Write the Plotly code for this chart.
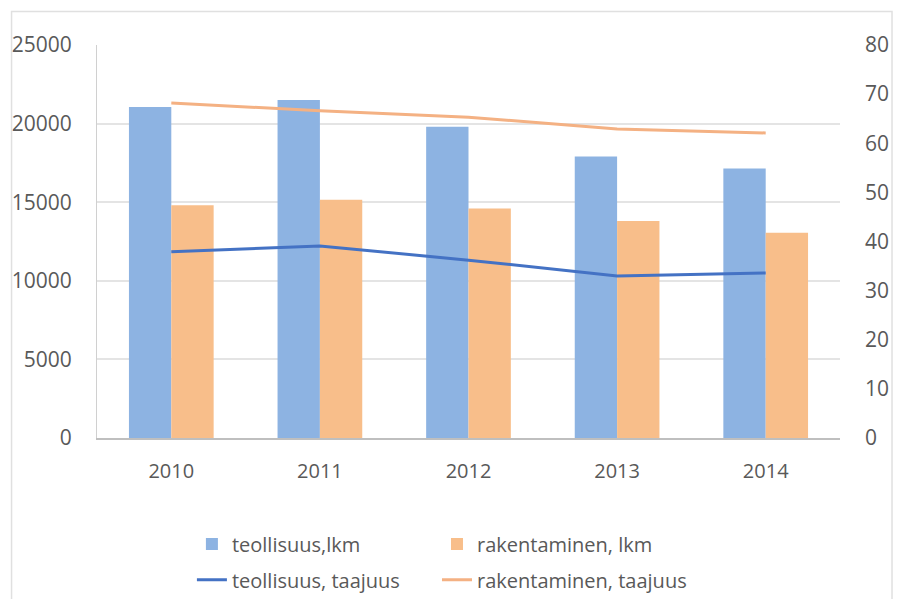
import plotly.graph_objects as go

years = ["2010", "2011", "2012", "2013", "2014"]
teollisuus_lkm = [21050, 21500, 19800, 17900, 17150]
rakentaminen_lkm = [14800, 15150, 14600, 13800, 13050]
teollisuus_taajuus = [37.9, 39.1, 36.2, 33.0, 33.6]
rakentaminen_taajuus = [68.2, 66.6, 65.3, 62.9, 62.1]

FONT = "Open Sans"
GREY = "#595959"

fig = go.Figure()
fig.add_trace(go.Bar(x=years, y=teollisuus_lkm, name="teollisuus,lkm", showlegend=True,
                     marker=dict(color="#8DB3E2", line=dict(width=0)), legend="legend"))
fig.add_trace(go.Bar(x=years, y=rakentaminen_lkm, name="rakentaminen, lkm", showlegend=True,
                     marker=dict(color="#F8BE8A", line=dict(width=0)), legend="legend2"))
fig.add_trace(go.Scatter(x=years, y=teollisuus_taajuus, name="teollisuus, taajuus",
                         mode="lines", line=dict(color="#4472C4", width=3), showlegend=True,
                         yaxis="y2", legend="legend3"))
fig.add_trace(go.Scatter(x=years, y=rakentaminen_taajuus, name="rakentaminen, taajuus",
                         mode="lines", line=dict(color="#F4B183", width=3), showlegend=True,
                         yaxis="y2", legend="legend4"))


def leg(x, y):
    return dict(orientation="h", xref="container", yref="container",
                x=x, xanchor="left", y=y, yanchor="middle", visible=True,
                font=dict(size=20, color=GREY), itemwidth=30,
                bgcolor="rgba(0,0,0,0)")


fig.update_layout(
    width=901, height=599,
    showlegend=True,
    margin=dict(l=95, r=58, t=45, b=161),
    paper_bgcolor="white", plot_bgcolor="white",
    font=dict(family=FONT, color=GREY, size=20),
    barmode="group", bargap=0.43, bargroupgap=0,
    xaxis=dict(showline=True, linecolor="#BFBFBF", linewidth=1.5, ticks="",
               tickfont=dict(size=20, color=GREY), ticklabelstandoff=14),
    yaxis=dict(range=[0, 25000], dtick=5000, tickformat="d", showgrid=True,
               gridcolor="#E4E4E4", gridwidth=1.5, zeroline=False, showline=True,
               linecolor="#D0D0D0",
               tickfont=dict(size=21, color=GREY), ticklabelstandoff=20),
    yaxis2=dict(range=[0, 80], dtick=10, overlaying="y", side="right", showgrid=False,
                zeroline=False, showline=False,
                tickfont=dict(size=21, color=GREY), ticklabelstandoff=24),
    legend=leg(0.213, 0.092),
    legend2=leg(0.485, 0.092),
    legend3=leg(0.213, 0.032),
    legend4=leg(0.485, 0.032),
    shapes=[dict(type="rect", xref="paper", yref="paper",
                 x0=-0.115, x1=1.07, y0=-0.42, y1=1.085,
                 line=dict(color="#E0E0E0", width=1.5))],
)

fig.write_html("out.html")
